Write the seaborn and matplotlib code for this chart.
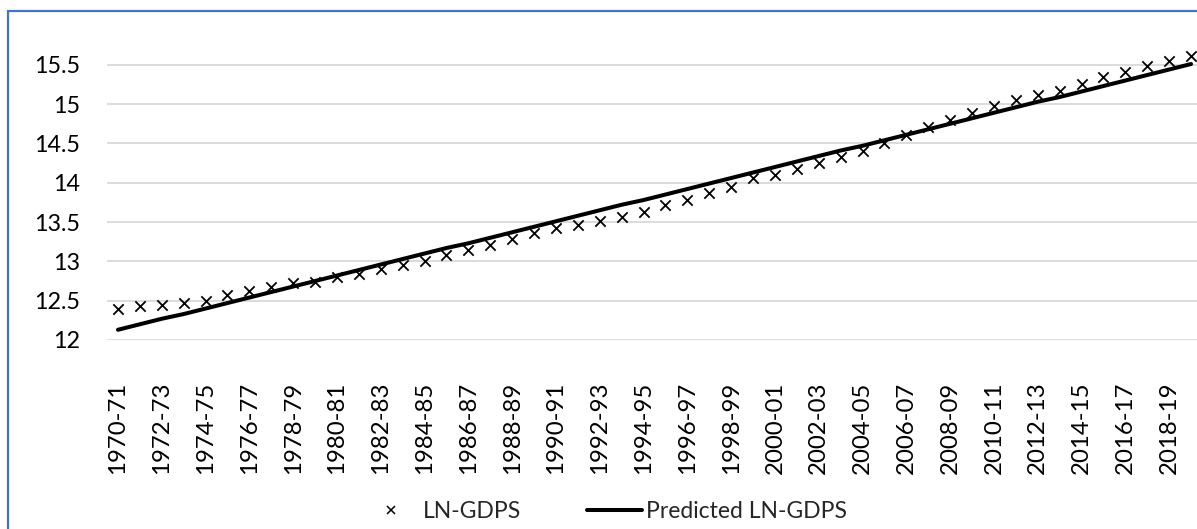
import matplotlib
matplotlib.use("Agg")
import matplotlib.pyplot as plt
import seaborn as sns
import pandas as pd
from matplotlib.lines import Line2D
from matplotlib.patches import Rectangle

years = ["1970-71", "1971-72", "1972-73", "1973-74", "1974-75", "1975-76", "1976-77",
         "1977-78", "1978-79", "1979-80", "1980-81", "1981-82", "1982-83", "1983-84",
         "1984-85", "1985-86", "1986-87", "1987-88", "1988-89", "1989-90", "1990-91",
         "1991-92", "1992-93", "1993-94", "1994-95", "1995-96", "1996-97", "1997-98",
         "1998-99", "1999-00", "2000-01", "2001-02", "2002-03", "2003-04", "2004-05",
         "2005-06", "2006-07", "2007-08", "2008-09", "2009-10", "2010-11", "2011-12",
         "2012-13", "2013-14", "2014-15", "2015-16", "2016-17", "2017-18", "2018-19",
         "2019-20"]

ln_gdps = [12.39, 12.43, 12.45, 12.47, 12.50, 12.57, 12.62, 12.68, 12.73, 12.74,
           12.80, 12.84, 12.90, 12.95, 13.00, 13.08, 13.15, 13.21, 13.28, 13.36,
           13.42, 13.46, 13.51, 13.57, 13.63, 13.72, 13.78, 13.87, 13.94, 14.06,
           14.10, 14.17, 14.25, 14.33, 14.41, 14.51, 14.61, 14.71, 14.80, 14.89,
           14.98, 15.05, 15.11, 15.17, 15.26, 15.34, 15.41, 15.48, 15.55, 15.61]

predicted = [12.13, 12.20, 12.27, 12.33, 12.40, 12.47, 12.54, 12.61, 12.68, 12.75,
             12.82, 12.89, 12.96, 13.03, 13.10, 13.17, 13.23, 13.30, 13.37, 13.44,
             13.51, 13.58, 13.65, 13.72, 13.78, 13.85, 13.92, 13.99, 14.06, 14.13,
             14.20, 14.27, 14.34, 14.41, 14.47, 14.54, 14.61, 14.68, 14.75, 14.82,
             14.89, 14.96, 15.03, 15.09, 15.16, 15.23, 15.30, 15.37, 15.44, 15.51]

y_ticks = [12, 12.5, 13, 13.5, 14, 14.5, 15, 15.5]
y_tick_labels = ["12", "12.5", "13", "13.5", "14", "14.5", "15", "15.5"]

df = pd.DataFrame({"pos": list(range(len(years))), "year": years,
                   "LN-GDPS": ln_gdps, "Predicted LN-GDPS": predicted})

sns.set_theme(style="white")
plt.rcParams["font.family"] = ["Lato", "DejaVu Sans"]

W, H = 1197, 529
fig = plt.figure(figsize=(W / 100, H / 100), dpi=100)
ax_left, ax_right = 107, 1202
ax_bottom_px, ax_top_px = 340, 53
ax = fig.add_axes([ax_left / W, (H - ax_bottom_px) / H,
                   (ax_right - ax_left) / W, (ax_bottom_px - ax_top_px) / H])

for yv in y_ticks:
    ax.axhline(yv, color="#d9d9d9", linewidth=1.3, zorder=0)

sns.lineplot(data=df, x="pos", y="Predicted LN-GDPS", ax=ax, color="black",
             linewidth=2.9, zorder=3, clip_on=False)
sns.scatterplot(data=df, x="pos", y="LN-GDPS", ax=ax, marker="x", color="black",
                s=55, linewidth=1.3, zorder=4, clip_on=False)

ax.set_xlim(-0.5, len(years) - 0.5)
ax.set_ylim(12, 15.65)
ax.set_yticks(y_ticks)
ax.set_yticklabels(y_tick_labels)
ax.set_xticks(df["pos"][::2])
ax.set_xticklabels(df["year"][::2], rotation=90)
ax.tick_params(axis="y", length=0, pad=19, labelsize=16.8, labelcolor="black")
ax.tick_params(axis="x", length=0, pad=30, labelsize=17.3, labelcolor="black")
ax.set_xlabel("")
ax.set_ylabel("")
for sp in ax.spines.values():
    sp.set_visible(False)
if ax.get_legend() is not None:
    ax.get_legend().remove()

handles = [Line2D([], [], linestyle="none", marker="x", color="black",
                  markersize=5.5, markeredgewidth=1.1),
           Line2D([], [], color="black", linewidth=2.9)]
fig.legend(handles, ["LN-GDPS", "Predicted LN-GDPS"], loc="center left",
           bbox_to_anchor=(363.5 / W, 17 / H), ncol=2, frameon=False,
           fontsize=16.5, handlelength=2.4, handletextpad=0.2,
           columnspacing=2.85, borderpad=0, borderaxespad=0)

fig.patches.append(Rectangle((8 / W, -0.1), 1.2, (H - 11) / H + 0.1,
                             transform=fig.transFigure, fill=False,
                             edgecolor="#4472C4", linewidth=1.6))

fig.savefig("out.png", dpi=100)
